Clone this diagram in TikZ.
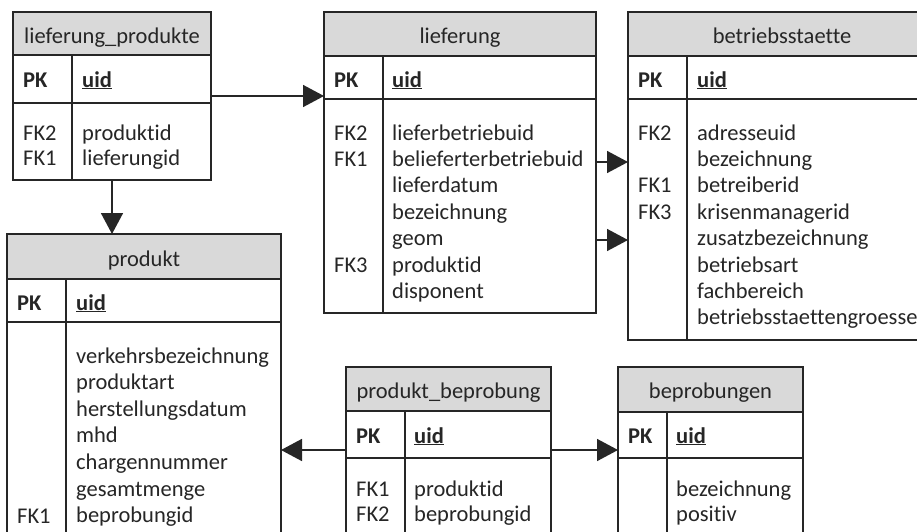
\documentclass[tikz,border=0pt]{standalone}
\usepackage{fontspec}
\setmainfont{Carlito}[Ligatures=NoCommon]
\usetikzlibrary{arrows.meta,fit}

\definecolor{ink}{HTML}{262626}
\definecolor{headgray}{HTML}{D9D9D9}

\tikzset{
  rule/.style={draw=ink, line width=1.6pt},
  frame/.style={rule, rectangle, inner sep=0pt, outer sep=0pt},
  hdrfill/.style={fill=headgray},
  txt/.style={text=ink, inner sep=0pt, font=\fontsize{22.5}{27}\selectfont},
  title/.style={txt, anchor=base},
  field/.style={txt, anchor=base west},
  conn/.style={draw=ink, line width=1.6pt, -{Triangle[length=21pt,width=22pt]}},
}

% table frame: name, left, top, right, bottom, header bottom, key-row bottom, divider
\newcommand{\erbox}[8]{%
  \fill[hdrfill] (#2,#3) rectangle (#4,#6);
  \draw[rule] (#2,#6) -- (#4,#6) (#2,#7) -- (#4,#7) (#8,#6) -- (#8,#5);
  \node[frame, fit={(#2,#3) (#4,#5)}] (#1) {};
}

\begin{document}
\begin{tikzpicture}[x=1pt,y=-1pt]
\clip (0,0) rectangle (917,531);
\fill[white] (0,0) rectangle (917,531);

% ---------- lieferung_produkte ----------
\erbox{lp}{13}{12}{211}{180}{55}{103}{72}
\node[title] (lp-t) at (112,43) {lieferung\_produkte};
\node[field] (lp-pk) at (23,87) {\textbf{PK}};
\node[field] (lp-uid) at (82,87) {\textbf{\underline{uid}}};
\node[field] (lp-k1) at (23,140) {FK2};
\node[field] (lp-k2) at (23,165) {FK1};
\node[field] (lp-f1) at (82,140) {produktid};
\node[field] (lp-f2) at (82,165) {lieferungid};

% ---------- lieferung ----------
\erbox{lf}{324}{12}{596}{313}{56}{99}{383}
\node[title] (lf-t) at (460,43) {lieferung};
\node[field] (lf-pk) at (334,87) {\textbf{PK}};
\node[field] (lf-uid) at (392,87) {\textbf{\underline{uid}}};
\node[field] (lf-k1) at (334,140) {FK2};
\node[field] (lf-k2) at (334,166.4) {FK1};
\node[field] (lf-k3) at (334,272) {FK3};
\foreach \t [count=\i] in {lieferbetriebuid,belieferterbetriebuid,lieferdatum,bezeichnung,geom,produktid,disponent}
  \node[field] (lf-f\i) at (392,140+26.4*\i-26.4) {\t};

% ---------- betriebsstaette ----------
\erbox{bs}{628}{12}{936}{340}{56}{99}{687}
\node[title] (bs-t) at (782,43) {betriebsstaette};
\node[field] (bs-pk) at (638,87) {\textbf{PK}};
\node[field] (bs-uid) at (697,87) {\textbf{\underline{uid}}};
\node[field] (bs-k1) at (638,140) {FK2};
\node[field] (bs-k2) at (638,192.8) {FK1};
\node[field] (bs-k3) at (638,219.2) {FK3};
\foreach \t [count=\i] in {adresseuid,bezeichnung,betreiberid,krisenmanagerid,zusatzbezeichnung,betriebsart,fachbereich,betriebsstaettengroesse}
  \node[field] (bs-f\i) at (697,140+26.4*\i-26.4) {\t};

% ---------- produkt ----------
\erbox{pr}{7}{234}{281}{545}{279}{322}{66}
\node[title] (pr-t) at (144,266) {produkt};
\node[field] (pr-pk) at (17,310) {\textbf{PK}};
\node[field] (pr-uid) at (76,310) {\textbf{\underline{uid}}};
\node[field] (pr-k1) at (17,523) {FK1};
\foreach \t [count=\i] in {verkehrsbezeichnung,produktart,herstellungsdatum,mhd,chargennummer,gesamtmenge,beprobungid}
  \node[field] (pr-f\i) at (76,363+26.6*\i-26.6) {\t};

% ---------- produkt_beprobung ----------
\erbox{pb}{346}{367}{551}{545}{411}{458}{405}
\node[title] (pb-t) at (448.5,398) {produkt\_beprobung};
\node[field] (pb-pk) at (356,443) {\textbf{PK}};
\node[field] (pb-uid) at (414,443) {\textbf{\underline{uid}}};
\node[field] (pb-k1) at (356,496) {FK1};
\node[field] (pb-k2) at (356,521) {FK2};
\node[field] (pb-f1) at (414,496) {produktid};
\node[field] (pb-f2) at (414,521) {beprobungid};

% ---------- beprobungen ----------
\erbox{bp}{618}{367}{803}{545}{412}{458}{667}
\node[title] (bp-t) at (710.5,398) {beprobungen};
\node[field] (bp-pk) at (628,443) {\textbf{PK}};
\node[field] (bp-uid) at (676,443) {\textbf{\underline{uid}}};
\node[field] (bp-f1) at (676,496) {bezeichnung};
\node[field] (bp-f2) at (676,521) {positiv};

% ---------- relations ----------
\coordinate (r1) at (0,96);
\coordinate (r2) at (0,162);
\coordinate (r3) at (0,240);
\coordinate (r4) at (0,450);
\coordinate (r5) at (112,0);
\draw[conn] (lp.east |- r1) -- (lf.west |- r1);
\draw[conn] (lp.south -| r5) -- (pr.north -| r5);
\draw[conn] (lf.east |- r2) -- (bs.west |- r2);
\draw[conn] (lf.east |- r3) -- (bs.west |- r3);
\draw[conn] (pb.west |- r4) -- (pr.east |- r4);
\draw[conn] (pb.east |- r4) -- (bp.west |- r4);
\end{tikzpicture}
\end{document}
